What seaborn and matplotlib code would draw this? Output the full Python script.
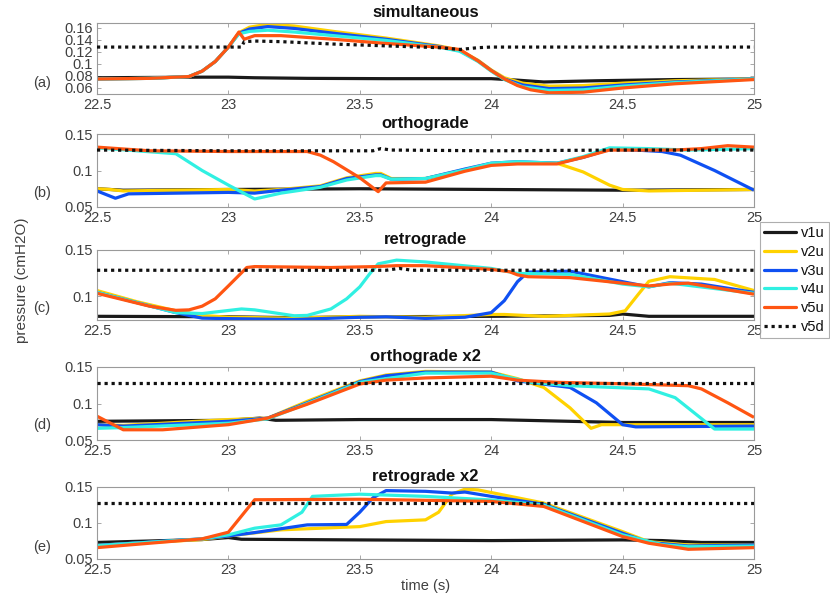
import numpy as np
import pandas as pd
import matplotlib
matplotlib.use("Agg")
import matplotlib.pyplot as plt
from matplotlib.lines import Line2D
from matplotlib.ticker import FuncFormatter
import seaborn as sns

# ---- data (time in s, pressure in cmH2O) ----
series_names = ["v1u", "v2u", "v3u", "v4u", "v5u", "v5d"]
series_colors = ["#1a1a1a", "#FFD200", "#0F50F2", "#30F0E2", "#FF5512", "#111111"]

# (a) simultaneous
sim_v1u_t = [22.5, 22.9, 23.0, 23.1, 23.3, 23.6, 24.0, 24.1, 24.2, 24.4, 24.7, 25.0]
sim_v1u_p = [0.077, 0.078, 0.078, 0.077, 0.076, 0.0755, 0.0755, 0.073, 0.070, 0.072, 0.074, 0.075]
sim_v2u_t = [22.5, 22.7, 22.85, 22.9, 22.95, 23.0, 23.04, 23.08, 23.15, 23.25, 23.4, 23.6, 23.8, 23.88,
             23.95, 24.0, 24.05, 24.12, 24.22, 24.35, 24.5, 24.7, 25.0]
sim_v2u_p = [0.075, 0.076, 0.079, 0.088, 0.104, 0.128, 0.152, 0.161, 0.166, 0.163, 0.154, 0.143, 0.130, 0.123,
             0.106, 0.090, 0.077, 0.068, 0.063, 0.064, 0.068, 0.072, 0.075]
sim_v3u_t = [22.5, 22.7, 22.85, 22.9, 22.95, 23.0, 23.04, 23.08, 23.15, 23.25, 23.4, 23.6, 23.8, 23.88,
             23.95, 24.0, 24.05, 24.12, 24.22, 24.35, 24.5, 24.7, 25.0]
sim_v3u_p = [0.075, 0.076, 0.079, 0.088, 0.104, 0.128, 0.151, 0.158, 0.162, 0.159, 0.151, 0.141, 0.129, 0.122,
             0.105, 0.089, 0.075, 0.065, 0.059, 0.060, 0.065, 0.070, 0.075]
sim_v4u_t = [22.5, 22.7, 22.85, 22.9, 22.95, 23.0, 23.04, 23.08, 23.15, 23.25, 23.4, 23.6, 23.8, 23.88,
             23.95, 24.0, 24.05, 24.12, 24.22, 24.35, 24.5, 24.7, 25.0]
sim_v4u_p = [0.075, 0.076, 0.079, 0.088, 0.104, 0.128, 0.150, 0.154, 0.156, 0.153, 0.147, 0.139, 0.128, 0.121,
             0.104, 0.088, 0.074, 0.062, 0.056, 0.057, 0.063, 0.069, 0.075]
sim_v5u_t = [22.5, 22.7, 22.85, 22.9, 22.95, 23.0, 23.04, 23.06, 23.1, 23.2, 23.4, 23.6, 23.8, 23.88,
             23.95, 24.0, 24.05, 24.1, 24.15, 24.22, 24.35, 24.5, 24.7, 25.0]
sim_v5u_p = [0.075, 0.076, 0.079, 0.088, 0.104, 0.128, 0.153, 0.141, 0.147, 0.147, 0.141, 0.134, 0.128, 0.124,
             0.105, 0.089, 0.075, 0.064, 0.057, 0.052, 0.053, 0.060, 0.067, 0.074]
sim_v5d_t = [22.5, 23.05, 23.06, 23.1, 23.2, 23.4, 23.6, 23.8, 23.88, 23.95, 24.0, 25.0]
sim_v5d_p = [0.128, 0.128, 0.137, 0.138, 0.137, 0.133, 0.130, 0.127, 0.124, 0.127, 0.128, 0.128]

# (b) orthograde
orth_v1u_t = [22.5, 22.6, 23.0, 23.5, 24.0, 24.5, 25.0]
orth_v1u_p = [0.075, 0.073, 0.074, 0.075, 0.074, 0.073, 0.074]
orth_v2u_t = [22.5, 22.55, 22.6, 23.0, 23.1, 23.2, 23.35, 23.45, 23.56, 23.58, 23.62, 23.75, 23.9, 24.0,
              24.1, 24.25, 24.35, 24.45, 24.5, 24.6, 25.0]
orth_v2u_p = [0.075, 0.074, 0.072, 0.074, 0.072, 0.074, 0.079, 0.090, 0.096, 0.096, 0.089, 0.089, 0.101, 0.109,
              0.111, 0.110, 0.098, 0.080, 0.074, 0.072, 0.074]
orth_v3u_t = [22.5, 22.57, 22.62, 23.0, 23.1, 23.2, 23.35, 23.45, 23.56, 23.58, 23.62, 23.75, 23.9, 24.0,
              24.1, 24.25, 24.35, 24.45, 24.55, 24.65, 24.72, 24.85, 25.0]
orth_v3u_p = [0.072, 0.062, 0.068, 0.070, 0.069, 0.073, 0.078, 0.089, 0.094, 0.094, 0.088, 0.089, 0.102, 0.110,
              0.112, 0.110, 0.118, 0.129, 0.128, 0.126, 0.121, 0.100, 0.073]
orth_v4u_t = [22.5, 22.65, 22.8, 22.9, 23.0, 23.1, 23.2, 23.35, 23.45, 23.56, 23.58, 23.62, 23.75, 23.9,
              24.0, 24.1, 24.25, 24.35, 24.45, 24.6, 24.75, 25.0]
orth_v4u_p = [0.131, 0.127, 0.123, 0.100, 0.080, 0.061, 0.069, 0.077, 0.087, 0.093, 0.093, 0.088, 0.089, 0.101,
              0.110, 0.112, 0.110, 0.119, 0.131, 0.130, 0.128, 0.130]
orth_v5u_t = [22.5, 22.7, 23.0, 23.3, 23.35, 23.4, 23.5, 23.57, 23.6, 23.75, 23.9, 24.0, 24.1, 24.25,
              24.35, 24.45, 24.7, 24.8, 24.9, 25.0]
orth_v5u_p = [0.132, 0.127, 0.126, 0.126, 0.121, 0.112, 0.090, 0.071, 0.083, 0.084, 0.099, 0.107, 0.109, 0.109,
              0.118, 0.128, 0.128, 0.130, 0.134, 0.132]
orth_v5d_t = [22.5, 23.0, 23.55, 23.58, 23.62, 24.0, 24.5, 25.0]
orth_v5d_p = [0.128, 0.127, 0.127, 0.130, 0.128, 0.127, 0.128, 0.128]

# (c) retrograde
retro_v1u_t = [22.5, 23.0, 23.25, 23.5, 24.0, 24.45, 24.5, 24.6, 25.0]
retro_v1u_p = [0.078, 0.0775, 0.0765, 0.0775, 0.078, 0.079, 0.0805, 0.078, 0.078]
retro_v2u_t = [22.5, 22.65, 22.8, 22.9, 23.0, 23.25, 23.5, 23.75, 24.0, 24.05, 24.2, 24.45, 24.51,
               24.56, 24.6, 24.68, 24.85, 25.0]
retro_v2u_p = [0.106, 0.094, 0.084, 0.079, 0.077, 0.076, 0.078, 0.077, 0.080, 0.080, 0.078, 0.0805, 0.084,
               0.102, 0.116, 0.121, 0.118, 0.106]
retro_v3u_t = [22.5, 22.65, 22.8, 22.9, 23.0, 23.25, 23.5, 23.6, 23.75, 23.9, 24.0, 24.05, 24.1, 24.14,
               24.3, 24.5, 24.6, 24.68, 24.8, 25.0]
retro_v3u_p = [0.104, 0.093, 0.082, 0.076, 0.0755, 0.0745, 0.077, 0.0775, 0.0757, 0.077, 0.082, 0.095, 0.1156,
               0.126, 0.127, 0.1156, 0.110, 0.1145, 0.113, 0.104]
retro_v4u_t = [22.5, 22.65, 22.8, 22.9, 23.05, 23.1, 23.25, 23.3, 23.39, 23.45, 23.5, 23.54, 23.57, 23.64,
               23.75, 24.0, 24.1, 24.3, 24.5, 24.6, 24.68, 25.0]
retro_v4u_p = [0.104, 0.093, 0.082, 0.081, 0.086, 0.085, 0.0786, 0.079, 0.086, 0.097, 0.110, 0.125, 0.135,
               0.139, 0.137, 0.130, 0.1246, 0.1236, 0.113, 0.110, 0.114, 0.103]
retro_v5u_t = [22.5, 22.6, 22.7, 22.8, 22.85, 22.9, 22.95, 23.0, 23.07, 23.1, 23.39, 23.56, 23.64, 23.75,
               24.0, 24.07, 24.1, 24.14, 24.3, 24.5, 24.6, 24.68, 24.75, 25.0]
retro_v5u_p = [0.103, 0.096, 0.089, 0.0845, 0.085, 0.089, 0.097, 0.111, 0.131, 0.132, 0.131, 0.132, 0.133,
               0.133, 0.129, 0.1264, 0.123, 0.121, 0.120, 0.114, 0.111, 0.113, 0.114, 0.102]
retro_v5d_t = [22.5, 23.6, 23.65, 23.7, 25.0]
retro_v5d_p = [0.128, 0.128, 0.130, 0.128, 0.128]

# (d) orthograde x2
orth2_v1u_t = [22.5, 23.0, 23.12, 23.18, 23.5, 24.0, 24.3, 24.5, 25.0]
orth2_v1u_p = [0.0756, 0.077, 0.080, 0.077, 0.078, 0.078, 0.0756, 0.074, 0.074]
orth2_v2u_t = [22.5, 22.6, 23.0, 23.15, 23.3, 23.5, 23.6, 23.75, 24.0, 24.1, 24.2, 24.3, 24.38, 24.42,
               24.6, 25.0]
orth2_v2u_p = [0.071, 0.070, 0.078, 0.080, 0.103, 0.131, 0.139, 0.144, 0.143, 0.134, 0.122, 0.094, 0.066,
               0.071, 0.071, 0.071]
orth2_v3u_t = [22.5, 22.6, 23.0, 23.15, 23.3, 23.5, 23.6, 23.75, 24.0, 24.1, 24.3, 24.4, 24.5, 24.55, 25.0]
orth2_v3u_p = [0.071, 0.069, 0.0756, 0.080, 0.101, 0.130, 0.138, 0.143, 0.143, 0.131, 0.122, 0.101, 0.071,
               0.068, 0.069]
orth2_v4u_t = [22.5, 22.6, 23.0, 23.15, 23.3, 23.5, 23.75, 24.0, 24.15, 24.3, 24.6, 24.7, 24.85, 25.0]
orth2_v4u_p = [0.066, 0.067, 0.073, 0.079, 0.100, 0.129, 0.1416, 0.1416, 0.129, 0.1244, 0.120, 0.108, 0.065,
               0.065]
orth2_v5u_t = [22.5, 22.6, 22.75, 23.0, 23.15, 23.3, 23.5, 23.6, 23.75, 24.0, 24.1, 24.25, 24.5, 24.75,
               24.8, 24.9, 25.0]
orth2_v5u_p = [0.0826, 0.064, 0.064, 0.071, 0.080, 0.099, 0.1267, 0.132, 0.135, 0.1374, 0.132, 0.129, 0.127,
               0.1244, 0.120, 0.101, 0.081]
orth2_v5d_t = [22.5, 25.0]
orth2_v5d_p = [0.128, 0.128]

# (e) retrograde x2
retro2_v1u_t = [22.5, 22.9, 23.0, 23.05, 23.5, 24.0, 24.5, 24.65, 24.8, 25.0]
retro2_v1u_p = [0.073, 0.077, 0.0798, 0.0774, 0.0765, 0.0756, 0.0765, 0.0756, 0.073, 0.073]
retro2_v2u_t = [22.5, 22.9, 23.0, 23.2, 23.5, 23.6, 23.75, 23.8, 23.85, 23.9, 23.95, 24.2, 24.5, 24.6,
                24.75, 25.0]
retro2_v2u_p = [0.069, 0.077, 0.082, 0.0905, 0.095, 0.102, 0.1044, 0.115, 0.140, 0.147, 0.146, 0.1277, 0.088,
                0.074, 0.0695, 0.0695]
retro2_v3u_t = [22.5, 22.9, 23.0, 23.1, 23.3, 23.45, 23.5, 23.55, 23.6, 23.75, 23.85, 23.9, 24.0, 24.2,
                24.5, 24.6, 24.75, 25.0]
retro2_v3u_p = [0.069, 0.078, 0.082, 0.0867, 0.0974, 0.098, 0.115, 0.135, 0.145, 0.144, 0.1416, 0.143, 0.137,
                0.126, 0.0858, 0.073, 0.068, 0.0695]
retro2_v4u_t = [22.5, 22.9, 23.0, 23.1, 23.2, 23.28, 23.32, 23.5, 23.75, 24.0, 24.2, 24.5, 24.65, 24.75, 25.0]
retro2_v4u_p = [0.0686, 0.078, 0.0835, 0.0928, 0.0974, 0.115, 0.137, 0.140, 0.137, 0.132, 0.125, 0.0835,
                0.070, 0.067, 0.068]
retro2_v5u_t = [22.5, 22.9, 23.0, 23.1, 23.5, 24.0, 24.2, 24.5, 24.6, 24.75, 25.0]
retro2_v5u_p = [0.0658, 0.078, 0.0872, 0.1323, 0.133, 0.130, 0.123, 0.0812, 0.0719, 0.0635, 0.0658]
retro2_v5d_t = [22.5, 25.0]
retro2_v5d_p = [0.128, 0.128]

panel_titles = ["simultaneous", "orthograde", "retrograde", "orthograde x2", "retrograde x2"]
panel_tags = ["(a)", "(b)", "(c)", "(d)", "(e)"]
panel_prefix = ["sim", "orth", "retro", "orth2", "retro2"]
panel_ylims = [(0.05, 0.168), (0.05, 0.15), (0.074, 0.15), (0.05, 0.15), (0.05, 0.15)]
panel_yticks = [[0.06, 0.08, 0.1, 0.12, 0.14, 0.16], [0.05, 0.1, 0.15], [0.1, 0.15],
                [0.05, 0.1, 0.15], [0.05, 0.1, 0.15]]
x_ticks = [22.5, 23, 23.5, 24, 24.5, 25]

# build one long table from the named arrays
rows = []
for prefix in panel_prefix:
    for name in series_names:
        t = globals()[f"{prefix}_{name}_t"]
        p = globals()[f"{prefix}_{name}_p"]
        rows.append(pd.DataFrame({"panel": prefix, "series": name, "time": t, "pressure": p}))
df = pd.concat(rows, ignore_index=True)

# ---- style ----
sns.set_style("ticks")
plt.rcParams["font.family"] = ["Liberation Sans", "DejaVu Sans"]
text_col = "#404040"
spine_col = "#9a9a9a"

fig = plt.figure(figsize=(8.3, 5.98), dpi=100)

# axes boxes in pixels (top, bottom) measured on the reference
boxes = [(23, 94), (134, 207), (250, 320), (367, 440), (487, 559)]
left_px, right_px = 97, 754
W, H = 830, 598

fmt = FuncFormatter(lambda v, _: f"{v:g}")

for i, prefix in enumerate(panel_prefix):
    top, bot = boxes[i]
    ax = fig.add_axes([left_px / W, 1 - bot / H, (right_px - left_px) / W, (bot - top) / H])
    sub = df[df["panel"] == prefix]
    for name, col in zip(series_names, series_colors):
        d = sub[sub["series"] == name]
        if name == "v5d":
            sns.lineplot(data=d, x="time", y="pressure", ax=ax, color=col, lw=2.3,
                         linestyle=(0, (1, 1.2)), estimator=None, sort=False, zorder=5)
        else:
            sns.lineplot(data=d, x="time", y="pressure", ax=ax, color=col, lw=2.3,
                         estimator=None, sort=False, solid_capstyle="butt")
    ax.set_xlim(22.5, 25)
    ax.set_ylim(*panel_ylims[i])
    ax.set_xticks(x_ticks)
    ax.set_yticks(panel_yticks[i])
    ax.xaxis.set_major_formatter(fmt)
    ax.yaxis.set_major_formatter(fmt)
    ax.tick_params(direction="in", length=3, width=0.6, color=spine_col, labelsize=10.5,
                   labelcolor=text_col, top=True, right=True, pad=3)
    for s in ax.spines.values():
        s.set_color(spine_col)
        s.set_linewidth(0.8)
    ax.set_title(panel_titles[i], fontsize=12, fontweight="bold", color="#111111", pad=4)
    ax.set_xlabel("")
    ax.set_ylabel("")
    tag_y = [0.155, 0.19, 0.17, 0.2, 0.17][i]
    ax.text(-0.084, tag_y, panel_tags[i], transform=ax.transAxes, ha="center", va="center",
            fontsize=10.5, color=text_col)
    if i == 4:
        ax.set_xlabel("time (s)", fontsize=10.5, color=text_col, labelpad=1)

fig.text(22 / W, 1 - 280 / H, "pressure (cmH2O)", rotation=90, ha="center", va="center",
         fontsize=11, color=text_col)

handles = [Line2D([0], [0], color=c, lw=2.3, linestyle=(0, (1, 1.2)) if n == "v5d" else "-")
           for n, c in zip(series_names, series_colors)]
leg = fig.legend(handles, series_names, loc="upper left", bbox_to_anchor=(760 / W, 1 - 222 / H),
                 fontsize=10.5, frameon=True, fancybox=False, edgecolor=spine_col,
                 handlelength=2.2, handletextpad=0.3, labelspacing=0.32, borderpad=0.3,
                 borderaxespad=0)
leg.get_frame().set_linewidth(0.8)
for txt in leg.get_texts():
    txt.set_color("#111111")

fig.savefig("out.png", dpi=100)
